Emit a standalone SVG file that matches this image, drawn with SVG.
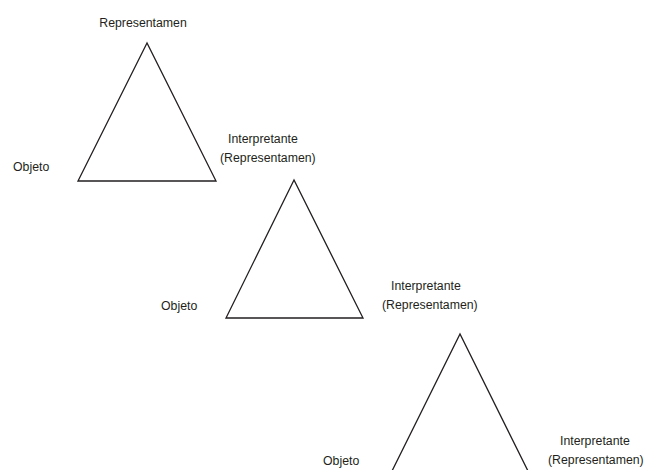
<svg xmlns="http://www.w3.org/2000/svg" width="648" height="470" viewBox="0 0 648 470">
<style>
.tri{fill:none;stroke:#231f20;stroke-width:1.3;stroke-linejoin:miter}
.t{font-family:"Liberation Sans",Arial,sans-serif;font-size:12.3px;fill:#231f20}
</style>
<rect width="648" height="470" fill="#fff"/>
<g id="triangle1">
<polygon class="tri" points="147,43 78,181 216,181"/>
<text class="t" x="143" y="27" text-anchor="middle">Representamen</text>
<text class="t" x="13" y="171">Objeto</text>
<text class="t" x="228" y="143">Interpretante</text>
<text class="t" x="220" y="162">(Representamen)</text>
</g>
<g id="triangle2">
<polygon class="tri" points="294,180 226,318 363,318"/>
<text class="t" x="161" y="310">Objeto</text>
<text class="t" x="391" y="290">Interpretante</text>
<text class="t" x="382" y="309">(Representamen)</text>
</g>
<g id="triangle3">
<polyline class="tri" points="392,471 460,334 528,471"/>
<text class="t" x="323" y="465">Objeto</text>
<text class="t" x="560" y="445">Interpretante</text>
<text class="t" x="548" y="464">(Representamen)</text>
</g>
<g id="connectors"></g>
</svg>
